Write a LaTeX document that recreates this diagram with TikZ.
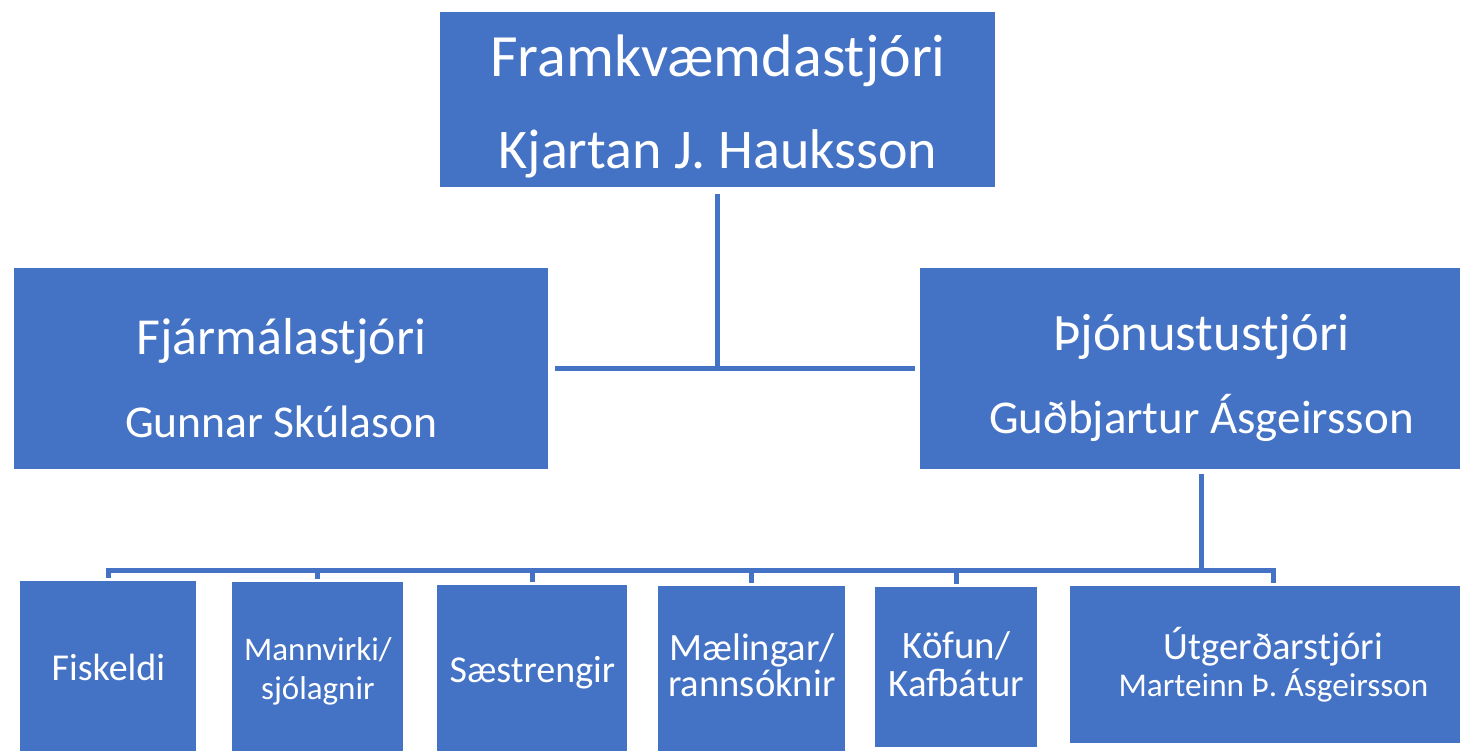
\documentclass[tikz,border=0pt]{standalone}
\usepackage{fontspec}
\setmainfont{Carlito}
\definecolor{orgblue}{RGB}{68,114,196}
\tikzset{
  orgbox/.style={rectangle,fill=orgblue,inner sep=0pt,anchor=north west},
  orgtext/.style={text=white,inner sep=0pt,align=center},
  orglink/.style={draw=orgblue,line width=2.5pt}
}
\begin{document}
\begin{tikzpicture}[x=0.5pt,y=-0.5pt,line cap=butt,line join=miter]
\useasboundingbox (0,0) rectangle (1460,750);
% top level
\node[orgbox,minimum width=277.5pt,minimum height=87.5pt] (fram) at (440,12) {};
\node[orgtext,font=\fontsize{28}{46}\selectfont] (framlbl) at ([yshift=-3.5pt]fram.center) {{\fontsize{30}{46}\selectfont Framkvæmdastjóri}\\Kjartan J. Hauksson};
% second level
\node[orgbox,minimum width=267pt,minimum height=100.5pt] (fjar) at (14,268) {};
\node[orgtext,font=\fontsize{22.8}{41.5}\selectfont] (fjarlbl) at ([yshift=-4.5pt]fjar.center) {{\fontsize{26}{41.5}\selectfont Fjármálastjóri}\\Gunnar Skúlason};
\node[orgbox,minimum width=281pt,minimum height=100.5pt] (thjon) at (920,268) {};
\node[orgtext,font=\fontsize{23.5}{41.5}\selectfont] (thjonlbl) at ([yshift=-4.5pt]thjon.center) {{\fontsize{26.3}{41.5}\selectfont Þjónustustjóri}\\Guðbjartur Ásgeirsson};
% departments
\node[orgbox,minimum width=88pt,minimum height=86pt] (fisk) at (20,581) {};
\node[orgtext,font=\fontsize{19}{22}\selectfont] (fisklbl) at (fisk.center) {Fiskeldi};
\node[orgbox,minimum width=85.5pt,minimum height=89pt] (mann) at (232,582) {};
\node[orgtext,font=\fontsize{16.5}{19.5}\selectfont] (mannlbl) at (mann.center) {Mannvirki/\\sjólagnir};
\node[orgbox,minimum width=95pt,minimum height=87.5pt] (saes) at (437,585) {};
\node[orgtext,font=\fontsize{19}{22}\selectfont] (saeslbl) at (saes.center) {Sæstrengir};
\node[orgbox,minimum width=93.5pt,minimum height=87pt] (mael) at (658,586) {};
\node[orgtext,font=\fontsize{19.3}{18.2}\selectfont] (maellbl) at ([yshift=4pt]mael.center) {Mælingar/\\rannsóknir};
\node[orgbox,minimum width=81pt,minimum height=80pt] (kof) at (875,587) {};
\node[orgtext,font=\fontsize{19.4}{19}\selectfont] (koflbl) at ([yshift=1.5pt]kof.center) {Köfun/\\Kafbátur};
\node[orgbox,minimum width=203pt,minimum height=78.5pt] (utg) at (1070,586) {};
\node[orgtext,font=\fontsize{16.6}{18.5}\selectfont] (utglbl) at (utg.center) {{\fontsize{19.3}{18.5}\selectfont Útgerðarstjóri}\\Marteinn Þ. Ásgeirsson};
% connectors
\coordinate (mid) at (0,369);
\coordinate (bus) at (0,570);
\draw[orglink,shorten <=3pt] (fram.south) -- (fram.south |- mid);
\draw[orglink,shorten <=3pt,shorten >=2.5pt] (fjar.east) -- (thjon.west);
\draw[orglink,shorten <=2pt] (thjon.south) -- (thjon.south |- bus);
\draw[orglink] ([xshift=-1.25pt]fisk.north |- bus) -- ([xshift=1.25pt]utg.north |- bus);
\foreach \dept in {fisk,mann,saes,mael,kof,utg}
  \draw[orglink,shorten >=1.5pt] (\dept.north |- bus) -- (\dept.north);
\end{tikzpicture}
\end{document}
